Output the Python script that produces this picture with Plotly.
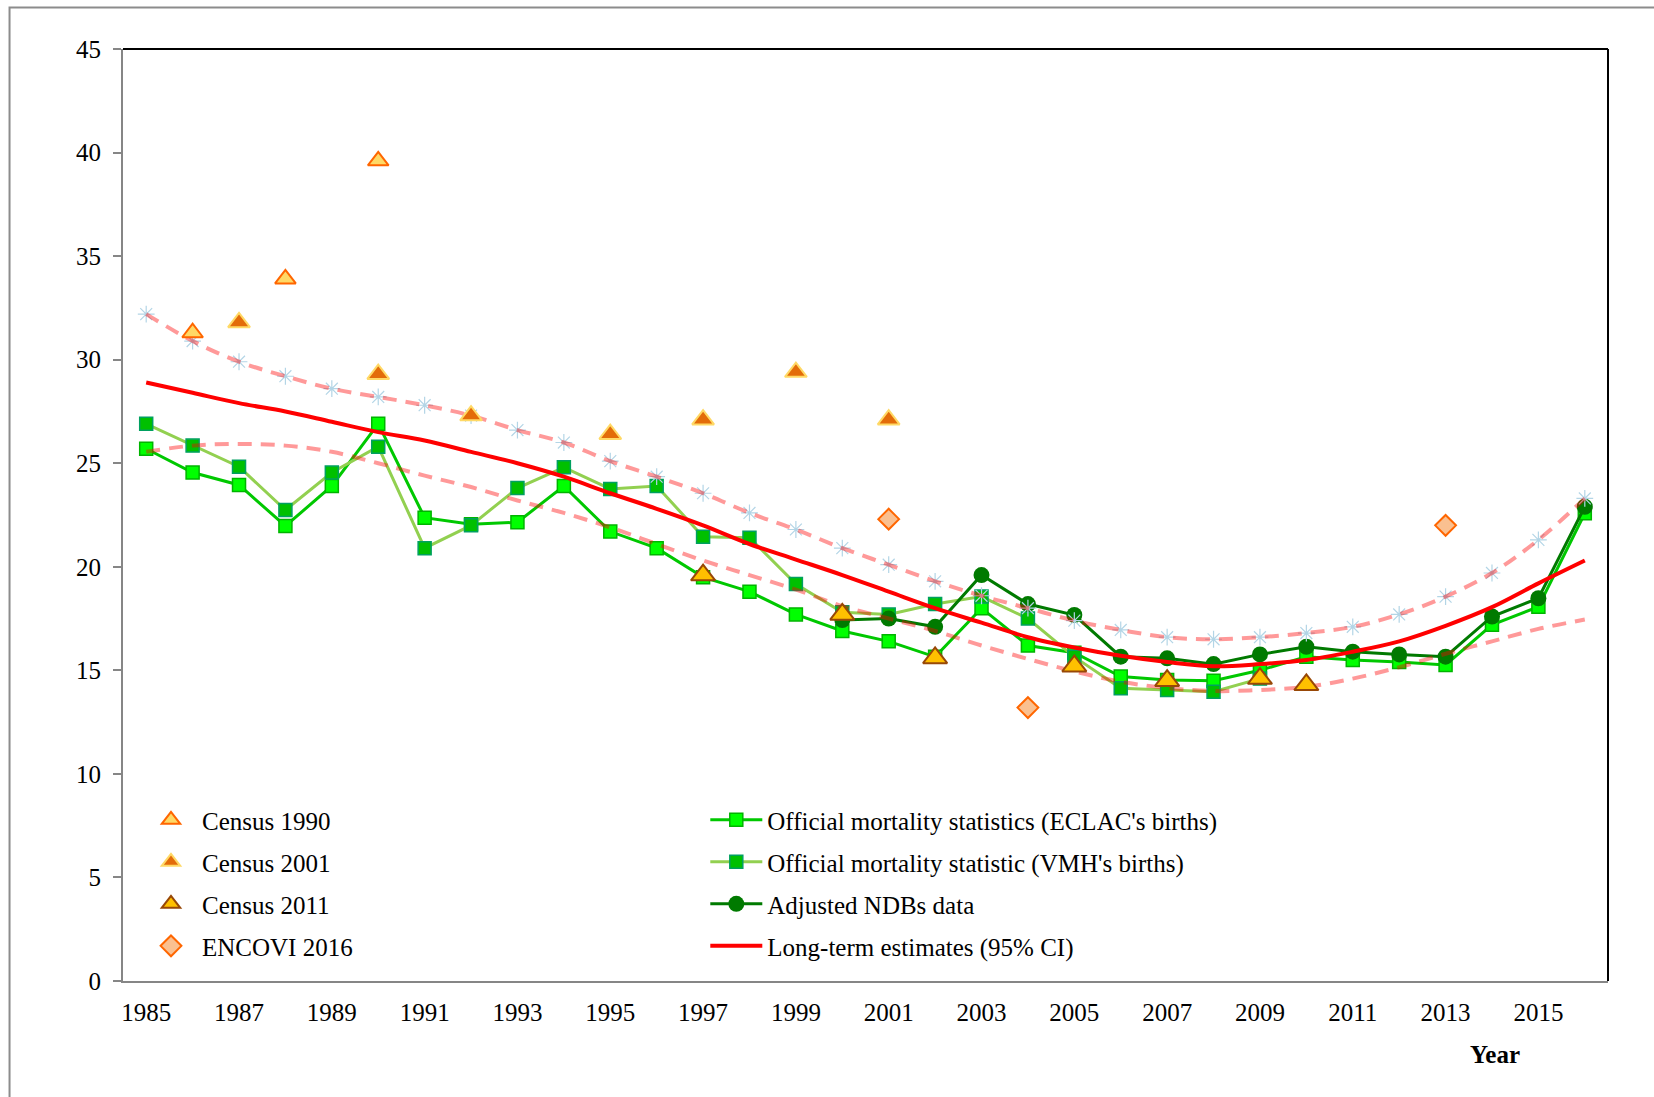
import plotly.graph_objects as go

# ---------------- data ----------------
years = list(range(1985, 2017))
eclac = [25.7, 24.55, 23.95, 21.97, 23.9, 26.9, 22.37, 22.05, 22.15, 23.9, 21.7, 20.9,
         19.5, 18.8, 17.7, 16.9, 16.4, 15.65, 18.0, 16.2, 15.85, 14.7, 14.53, 14.5,
         15.0, 15.66, 15.5, 15.4, 15.26, 17.2, 18.07, 22.58]
vmh_years = list(range(1985, 2010))
vmh = [26.9, 25.85, 24.83, 22.74, 24.55, 25.8, 20.9, 22.0, 23.8, 24.8, 23.76, 23.9,
       21.45, 21.4, 19.17, 17.8, 17.7, 18.2, 18.56, 17.5, 15.65, 14.13, 14.05, 13.97, 14.6]
ndb_years = list(range(2000, 2017))
ndb = [17.43, 17.5, 17.1, 19.6, 18.2, 17.67, 15.66, 15.58, 15.3, 15.77, 16.14, 15.9,
       15.77, 15.66, 17.6, 18.48, 22.9]
long_term = [28.9, 28.4, 27.9, 27.5, 27.0, 26.5, 26.1, 25.55, 25.0, 24.35, 23.55, 22.8,
             22.0, 21.1, 20.35, 19.6, 18.8, 18.0, 17.3, 16.6, 16.1, 15.7, 15.4, 15.2,
             15.3, 15.5, 15.9, 16.4, 17.15, 18.05, 19.2, 20.3]
ci_upper = [32.2, 30.9, 29.9, 29.2, 28.6, 28.2, 27.8, 27.3, 26.6, 26.0, 25.1, 24.35,
            23.55, 22.6, 21.8, 20.9, 20.1, 19.3, 18.6, 18.0, 17.4, 16.95, 16.6, 16.5,
            16.6, 16.8, 17.1, 17.7, 18.56, 19.7, 21.3, 23.3]
ci_lower = [25.55, 25.85, 25.93, 25.85, 25.55, 25.0, 24.4, 23.85, 23.2, 22.6, 21.9, 21.1,
            20.3, 19.6, 18.9, 18.1, 17.5, 16.9, 16.2, 15.55, 14.95, 14.45, 14.15, 14.0,
            14.05, 14.2, 14.6, 15.15, 15.8, 16.4, 17.0, 17.45]
c1990_years = [1986, 1988, 1990]
c1990 = [31.3, 33.9, 39.6]
c2001_years = [1987, 1990, 1992, 1995, 1997, 1999, 2001]
c2001 = [31.8, 29.3, 27.3, 26.4, 27.1, 29.4, 27.1]
c2011_years = [1997, 2000, 2002, 2005, 2007, 2009, 2010]
c2011 = [19.6, 17.7, 15.6, 15.2, 14.5, 14.6, 14.3]
encovi_years = [2001, 2004, 2013]
encovi = [22.3, 13.2, 22.0]
x_ticks = list(range(1985, 2016, 2))
y_ticks = list(range(0, 46, 5))

FONT = "Liberation Serif, Times New Roman, serif"
W, H = 1654, 1097
L, R, T, B = 122.5, 1608, 48.5, 981

fig = go.Figure()

# green series
fig.add_trace(go.Scatter(x=years, y=eclac, mode="lines+markers",
                         name="Official mortality statistics (ECLAC's births)",
                         line=dict(color="#00C800", width=3),
                         marker=dict(symbol="square", size=13, color="#00FF00",
                                     line=dict(color="#00B400", width=1.5)),
                         legend="legend2", legendgroup="g1"))
fig.add_trace(go.Scatter(x=vmh_years, y=vmh, mode="lines+markers",
                         name="Official mortality statistic (VMH's births)",
                         line=dict(color="#92D050", width=3),
                         marker=dict(symbol="square", size=13, color="#00C000",
                                     line=dict(color="#00A060", width=1.5)),
                         legend="legend2", legendgroup="g2"))
fig.add_trace(go.Scatter(x=ndb_years, y=ndb, mode="lines+markers",
                         name="Adjusted NDBs data",
                         line=dict(color="#007A00", width=3),
                         marker=dict(symbol="circle", size=16, color="#007A00"),
                         legend="legend2", legendgroup="g3"))

# CI asterisk markers (below dashes)
fig.add_trace(go.Scatter(x=years, y=ci_upper, mode="markers", showlegend=False,
                         marker=dict(symbol="asterisk-open", size=14, color="#B3D5E6",
                                     line=dict(color="#B3D5E6", width=1.2))))

fig.add_trace(go.Scatter(x=years, y=long_term, mode="lines",
                         name="Long-term estimates (95% CI)",
                         line=dict(color="#FF0000", width=4, shape="spline"),
                         legend="legend2", legendgroup="g4"))
fig.add_trace(go.Scatter(x=years, y=ci_upper, mode="lines", showlegend=False,
                         line=dict(color="rgba(255,0,0,0.4)", width=4, dash="14px,9px",
                                   shape="spline")))
fig.add_trace(go.Scatter(x=years, y=ci_lower, mode="lines", showlegend=False,
                         line=dict(color="rgba(255,0,0,0.4)", width=4, dash="14px,9px",
                                   shape="spline")))

# census / survey markers
fig.add_trace(go.Scatter(x=c1990_years, y=c1990, mode="markers", name="Census 1990",
                         marker=dict(symbol="triangle-up", size=18, color="#FFD966",
                                     line=dict(color="#FF6600", width=2)),
                         legend="legend", legendgroup="c1"))
fig.add_trace(go.Scatter(x=c2001_years, y=c2001, mode="markers", name="Census 2001",
                         marker=dict(symbol="triangle-up", size=19, color="#E36C09",
                                     line=dict(color="#FFD966", width=2)),
                         legend="legend", legendgroup="c2"))
fig.add_trace(go.Scatter(x=c2011_years, y=c2011, mode="markers", name="Census 2011",
                         marker=dict(symbol="triangle-up", size=21, color="#FFC000",
                                     line=dict(color="#984807", width=2)),
                         legend="legend", legendgroup="c3"))
fig.add_trace(go.Scatter(x=encovi_years, y=encovi, mode="markers", name="ENCOVI 2016",
                         marker=dict(symbol="diamond", size=16, color="#FAC090",
                                     line=dict(color="#FF6600", width=2)),
                         legend="legend", legendgroup="c4"))

pw, ph = R - L, B - T
def px(xp):
    return (xp - L) / pw
def py(yp):
    return (B - yp) / ph

fig.update_layout(
    width=W, height=H,
    margin=dict(l=L, r=W - R, t=T, b=H - B, pad=0),
    paper_bgcolor="white", plot_bgcolor="white",
    font=dict(family=FONT, size=25, color="black"),
    xaxis=dict(range=[1984.5, 2016.5], tickvals=x_ticks, ticktext=[str(v) for v in x_ticks],
               showgrid=False, zeroline=False, showline=True, linecolor="#868686",
               linewidth=2, ticks="", ticklabelstandoff=8,
               tickfont=dict(family=FONT, size=25, color="black")),
    yaxis=dict(range=[0, 45], tickvals=y_ticks, showgrid=False, zeroline=False,
               showline=True, linecolor="#868686", linewidth=2, ticks="outside",
               ticklen=8, tickwidth=2, tickcolor="#868686", ticklabelstandoff=7,
               tickfont=dict(family=FONT, size=25, color="black")),
    legend=dict(x=px(139.5), y=py(797), xanchor="left", yanchor="top",
                bgcolor="rgba(0,0,0,0)", font=dict(family=FONT, size=25),
                tracegroupgap=6.5, itemwidth=52),
    legend2=dict(x=px(705), y=py(797), xanchor="left", yanchor="top",
                 bgcolor="rgba(0,0,0,0)", font=dict(family=FONT, size=25),
                 tracegroupgap=6.5, itemwidth=52),
    showlegend=True,
    annotations=[dict(text="<b>Year</b>", x=px(1495), y=py(1055), xref="paper", yref="paper",
                      showarrow=False, xanchor="center", yanchor="middle",
                      font=dict(family=FONT, size=25, color="black"))],
    shapes=[
        dict(type="rect", xref="paper", yref="paper", x0=px(9), x1=px(1700), y0=py(1150),
             y1=py(7), line=dict(color="#8C8C8C", width=2), layer="below"),
        dict(type="line", xref="paper", yref="paper", x0=0, x1=1, y0=1, y1=1,
             line=dict(color="black", width=2)),
        dict(type="line", xref="paper", yref="paper", x0=1, x1=1, y0=0, y1=1,
             line=dict(color="black", width=2)),
    ],
)

fig.write_html("out.html", config={"displayModeBar": False},
               post_script="document.body.style.margin='0';document.body.style.overflow='hidden';")
